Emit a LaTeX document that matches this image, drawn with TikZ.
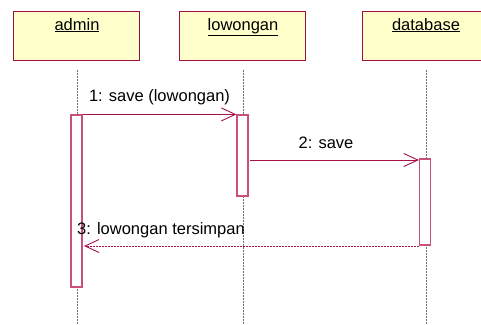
\documentclass[tikz,border=0pt]{standalone}
\usepackage{fontspec}
\setmainfont{Liberation Sans}
\usetikzlibrary{arrows.meta}
\definecolor{boxline}{HTML}{A0103C}
\definecolor{boxfill}{HTML}{FFFFCC}
\definecolor{actline}{HTML}{C8507A}
\definecolor{msgline}{HTML}{A8104A}
\definecolor{lifeline}{HTML}{707070}
\tikzset{
  objbox/.style={draw=boxline, fill=boxfill, line width=1pt, minimum width=126pt, minimum height=49pt, inner sep=0pt},
  objname/.style={font=\fontsize{16.5}{18}\selectfont, inner sep=0pt, anchor=base},
  actbox/.style={draw=actline, fill=white, line width=1.2pt, minimum width=11pt, inner sep=0pt},
  life/.style={draw=lifeline, line width=0.6pt, dash pattern=on 2pt off 1pt},
  msg/.style={draw=msgline, line width=0.9pt, -{Straight Barb[length=14pt,width=13pt,line width=0.9pt]}},
  retmsg/.style={msg, dash pattern=on 2pt off 1pt},
  msglabel/.style={font=\fontsize{16.5}{18}\selectfont, inner sep=0pt}
}
\begin{document}
\begin{tikzpicture}[x=1pt,y=-1pt]
\clip (0,0) rectangle (481,324);
\fill[white] (0,0) rectangle (481,324);
% objects
\node[objbox] (bA) at (76,35.5) {};
\node[objbox] (bL) at (242,35.5) {};
\node[objbox] (bD) at (425,35.5) {};
\node[objname] (nA) at (77,30) {\underline{admin}};
\node[objname] (nL) at (243,30) {\underline{lowongan}};
\node[objname] (nD) at (426,30) {\underline{database}};
% lifelines
\coordinate (eA) at (77,324);
\coordinate (eL) at (243,324);
\coordinate (eD) at (426,324);
\coordinate (sA) at (77,70);
\coordinate (sL) at (243,70);
\coordinate (sD) at (426,70);
\draw[life] (sA) -- (eA);
\draw[life] (sL) -- (eL);
\draw[life] (sD) -- (eD);
% activations
\node[actbox, minimum height=172pt] (aA) at (76.5,201) {};
\node[actbox, minimum height=81pt] (aL) at (242.5,155.5) {};
\node[actbox, minimum height=86pt] (aD) at (425,202) {};
% messages
\draw[msg] (aA.north east) -- (aL.north west);
\coordinate (m2s) at (250,160);
\draw[msg] (m2s) -- (aD.west |- m2s);
\coordinate (m3e) at (84,246);
\draw[retmsg] (aD.west |- m3e) -- (m3e);
% labels
\node[msglabel] (l1) at (159.5,97) {1: save (lowongan)};
\node[msglabel] (l2) at (326,143) {2: save};
\node[msglabel, anchor=west] (l3) at (77,230) {3: lowongan tersimpan};
\end{tikzpicture}
\end{document}
